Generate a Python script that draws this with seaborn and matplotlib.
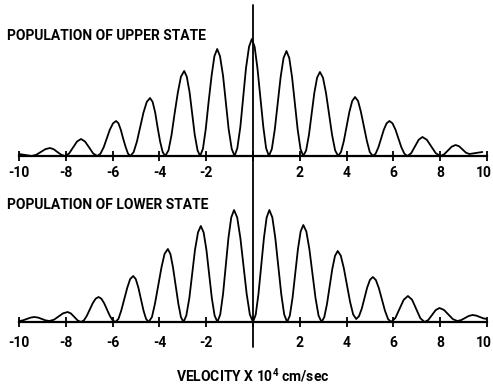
import matplotlib
matplotlib.use("Agg")
import matplotlib.pyplot as plt
import matplotlib.transforms as mtransforms
import seaborn as sns
import pandas as pd

# ---- data (velocity in 10^4 cm/sec, population in arbitrary units) ----
upper_v = [
    -10.0, -9.73, -9.46,
    -9.265, -9.07, -8.875, -8.68,
    -8.52, -8.36, -8.19, -8.03,
    -7.86, -7.69, -7.52, -7.35,
    -7.18, -7.00, -6.83, -6.65,
    -6.52, -6.38, -6.25, -6.12, -5.98, -5.85,
    -5.75, -5.65, -5.55, -5.44, -5.34, -5.24,
    -5.10, -4.96, -4.82, -4.68, -4.54, -4.40,
    -4.29, -4.18, -4.08, -3.97, -3.86, -3.75,
    -3.61, -3.48, -3.35, -3.21, -3.08, -2.94,
    -2.83, -2.71, -2.60, -2.49, -2.37, -2.26,
    -2.14, -2.02, -1.90, -1.77, -1.65, -1.53,
    -1.41, -1.28, -1.16, -1.04, -0.91, -0.79,
    -0.67, -0.54, -0.42, -0.30, -0.17, -0.05,
    0.07, 0.19, 0.315, 0.44, 0.56, 0.68,
    0.805, 0.93, 1.055, 1.18, 1.305, 1.43,
    1.55, 1.67, 1.79, 1.91, 2.03, 2.15,
    2.27, 2.39, 2.505, 2.62, 2.74, 2.86,
    2.99, 3.12, 3.25, 3.38, 3.51, 3.64,
    3.76, 3.88, 4.00, 4.12, 4.24, 4.36,
    4.49, 4.61, 4.74, 4.87, 4.99, 5.12,
    5.24, 5.36, 5.475, 5.59, 5.71, 5.83,
    5.96, 6.09, 6.215, 6.34, 6.47, 6.60,
    6.76, 6.92, 7.08, 7.24,
    7.43, 7.62, 7.81, 8.00,
    8.165, 8.33, 8.495, 8.66,
    8.81, 8.955, 9.10, 9.25,
    9.525, 9.80,
]
upper_pop = [
    2, 1, 0,
    1.2, 4, 6.8, 8,
    6.8, 4, 1.2, 0,
    2.5, 8.5, 14.5, 17,
    14.5, 8.5, 2.5, 0,
    2.3, 8.75, 17.5, 26.25, 32.7, 35,
    32.7, 26.25, 17.5, 8.75, 2.3, 0,
    3.9, 14.5, 29, 43.5, 54.1, 58,
    54.1, 43.5, 29, 14.5, 3.9, 0,
    5.7, 21.25, 42.5, 63.75, 79.3, 85,
    79.3, 63.75, 42.5, 21.25, 5.7, 0,
    7.2, 26.75, 53.5, 80.25, 99.8, 107,
    99.8, 80.25, 53.5, 26.75, 7.2, 0,
    7.8, 29.25, 58.5, 87.75, 109.2, 117,
    109.2, 87.75, 58.5, 29.25, 7.8, 0,
    7.0, 26.25, 52.5, 78.75, 98.0, 105,
    98.0, 78.75, 52.5, 26.25, 7.0, 0,
    5.6, 21, 42, 63, 78.4, 84,
    78.4, 63, 42, 21, 5.6, 0,
    4.0, 14.75, 29.5, 44.25, 55.0, 59,
    55.0, 44.25, 29.5, 14.75, 4.0, 0,
    2.3, 8.75, 17.5, 26.25, 32.7, 35,
    32.7, 26.25, 17.5, 8.75, 2.3, 0,
    2.8, 9.5, 16.2, 19,
    16.2, 9.5, 2.8, 0,
    1.6, 5.5, 9.4, 11,
    9.7, 6.5, 3.3, 2,
    3, 4,
]

lower_v = [
    -10.0,
    -9.835, -9.67, -9.505, -9.34,
    -9.18, -9.02, -8.86, -8.70,
    -8.505, -8.31, -8.115, -7.92,
    -7.78, -7.635, -7.49, -7.35,
    -7.225, -7.10, -6.975, -6.85, -6.725, -6.60,
    -6.48, -6.36, -6.24, -6.12, -6.00, -5.88,
    -5.75, -5.63, -5.50, -5.37, -5.25, -5.12,
    -5.01, -4.90, -4.79, -4.68, -4.57, -4.46,
    -4.32, -4.19, -4.05, -3.91, -3.78, -3.64,
    -3.53, -3.42, -3.305, -3.19, -3.08, -2.97,
    -2.85, -2.72, -2.60, -2.48, -2.35, -2.23,
    -2.11, -1.99, -1.875, -1.76, -1.64, -1.52,
    -1.40, -1.28, -1.165, -1.05, -0.93, -0.81,
    -0.675, -0.54, -0.405, -0.27, -0.135, 0.0,
    0.117, 0.233, 0.35, 0.467, 0.583, 0.70,
    0.827, 0.953, 1.08, 1.207, 1.333, 1.46,
    1.575, 1.69, 1.805, 1.92, 2.035, 2.15,
    2.28, 2.41, 2.54, 2.67, 2.80, 2.93,
    3.045, 3.16, 3.275, 3.39, 3.505, 3.62,
    3.75, 3.88, 4.015, 4.15, 4.28, 4.41,
    4.53, 4.65, 4.765, 4.88, 5.00, 5.12,
    5.25, 5.38, 5.51, 5.64, 5.77, 5.90,
    6.08, 6.26, 6.44, 6.62,
    6.80, 6.975, 7.15, 7.33,
    7.49, 7.65, 7.81, 7.97,
    8.16, 8.35, 8.54, 8.73,
    8.895, 9.06, 9.225, 9.39,
    9.54, 9.695, 9.85, 10.0,
]
lower_pop = [
    1,
    1.6, 3, 4.4, 5,
    4.4, 3, 1.6, 1,
    2.3, 5.5, 8.7, 10,
    8.5, 5, 1.5, 0,
    1.7, 6.25, 12.5, 18.75, 23.3, 25,
    23.3, 18.75, 12.5, 6.25, 1.7, 0,
    3.1, 11.5, 23, 34.5, 42.9, 46,
    42.9, 34.5, 23, 11.5, 3.1, 0,
    4.9, 18.25, 36.5, 54.75, 68.1, 73,
    68.1, 54.75, 36.5, 18.25, 4.9, 0,
    6.4, 24, 48, 72, 89.6, 96,
    89.6, 72, 48, 24, 6.4, 0,
    7.5, 28, 56, 84, 104.5, 112,
    104.5, 84, 56, 28, 7.5, 0,
    7.5, 28, 56, 84, 104.5, 112,
    104.5, 84, 56, 28, 7.5, 0,
    6.5, 24.25, 48.5, 72.75, 90.5, 97,
    90.5, 72.75, 48.5, 24.25, 6.5, 0,
    4.8, 17.75, 35.5, 53.25, 66.2, 71,
    66.4, 54, 37, 20, 7.6, 3,
    5.8, 13.5, 24, 34.5, 42.2, 45,
    42, 33.75, 22.5, 11.25, 3.0, 0,
    3.8, 13, 22.2, 26,
    22.2, 13, 3.8, 0,
    2.0, 7, 12, 14,
    12.1, 7.5, 2.9, 1,
    1.9, 4, 6.1, 7,
    6.4, 5, 3.6, 3,
]

tick_values = [-10, -8, -6, -4, -2, 0, 2, 4, 6, 8, 10]
tick_labels = ["-10", "-8", "-6", "-4", "-2", "", "2", "4", "6", "8", "10"]
titles = ["POPULATION OF UPPER STATE", "POPULATION OF LOWER STATE"]
xlabel = "VELOCITY X 10$^{4}$ cm/sec"

# ---- styling ----
sns.set_style("white")
plt.rcParams["font.family"] = ["Roboto", "DejaVu Sans"]
plt.rcParams["mathtext.default"] = "regular"
plt.rcParams["text.color"] = "black"
plt.rcParams["xtick.color"] = "black"

W, H = 493, 385
fig = plt.figure(figsize=(W / 100, H / 100), dpi=100)
fig.patch.set_facecolor("white")

ax1 = fig.add_axes([19 / W, 1 - 156 / H, 468 / W, 151 / H])
ax2 = fig.add_axes([19 / W, 1 - 322 / H, 468 / W, 152 / H])

df_u = pd.DataFrame({"v": upper_v, "p": upper_pop})
df_l = pd.DataFrame({"v": lower_v, "p": lower_pop})

for ax, df, ytop, pad in ((ax1, df_u, 151, 3.5), (ax2, df_l, 152, 6.5)):
    ax.patch.set_alpha(0)
    sns.lineplot(data=df, x="v", y="p", sort=False, estimator=None,
                 color="black", linewidth=1.3, ax=ax)
    ax.set_xlim(-10, 10)
    ax.set_ylim(0, ytop)
    for s in ("top", "left", "right"):
        ax.spines[s].set_visible(False)
    ax.spines["bottom"].set_color("black")
    ax.spines["bottom"].set_linewidth(1.6)
    ax.set_xticks(tick_values)
    ax.set_xticklabels(tick_labels)
    ax.set_yticks([])
    ax.tick_params(axis="x", direction="inout", length=7, width=1.3,
                   color="black", labelcolor="black", labelsize=10,
                   pad=pad, bottom=True)
    labs = ax.get_xticklabels()
    for lab in labs:
        lab.set_fontweight("bold")
    # nudge the right-most label so it stays inside the canvas
    shift = mtransforms.ScaledTranslation(-3 / 100, 0, fig.dpi_scale_trans)
    labs[-1].set_transform(labs[-1].get_transform() + shift)
    ax.set_xlabel("")
    ax.set_ylabel("")

# central vertical axis through both panels
ax1.axvline(0, ymin=0, ymax=1, color="black", linewidth=1.3, clip_on=False)
ax2.axvline(0, ymin=(322 - 347) / 152, ymax=(322 - 156) / 152,
            color="black", linewidth=1.3, clip_on=False)

fig.text(7 / W, 1 - 36 / H, titles[0], fontsize=10, fontweight="bold",
         ha="left", va="center", color="black")
fig.text(7 / W, 1 - 205 / H, titles[1], fontsize=10, fontweight="bold",
         ha="left", va="center", color="black")
fig.text(253 / W, 1 - 375 / H, xlabel, fontsize=10, fontweight="bold",
         ha="center", va="center", color="black")

fig.savefig("out.png", dpi=100, facecolor="white")
